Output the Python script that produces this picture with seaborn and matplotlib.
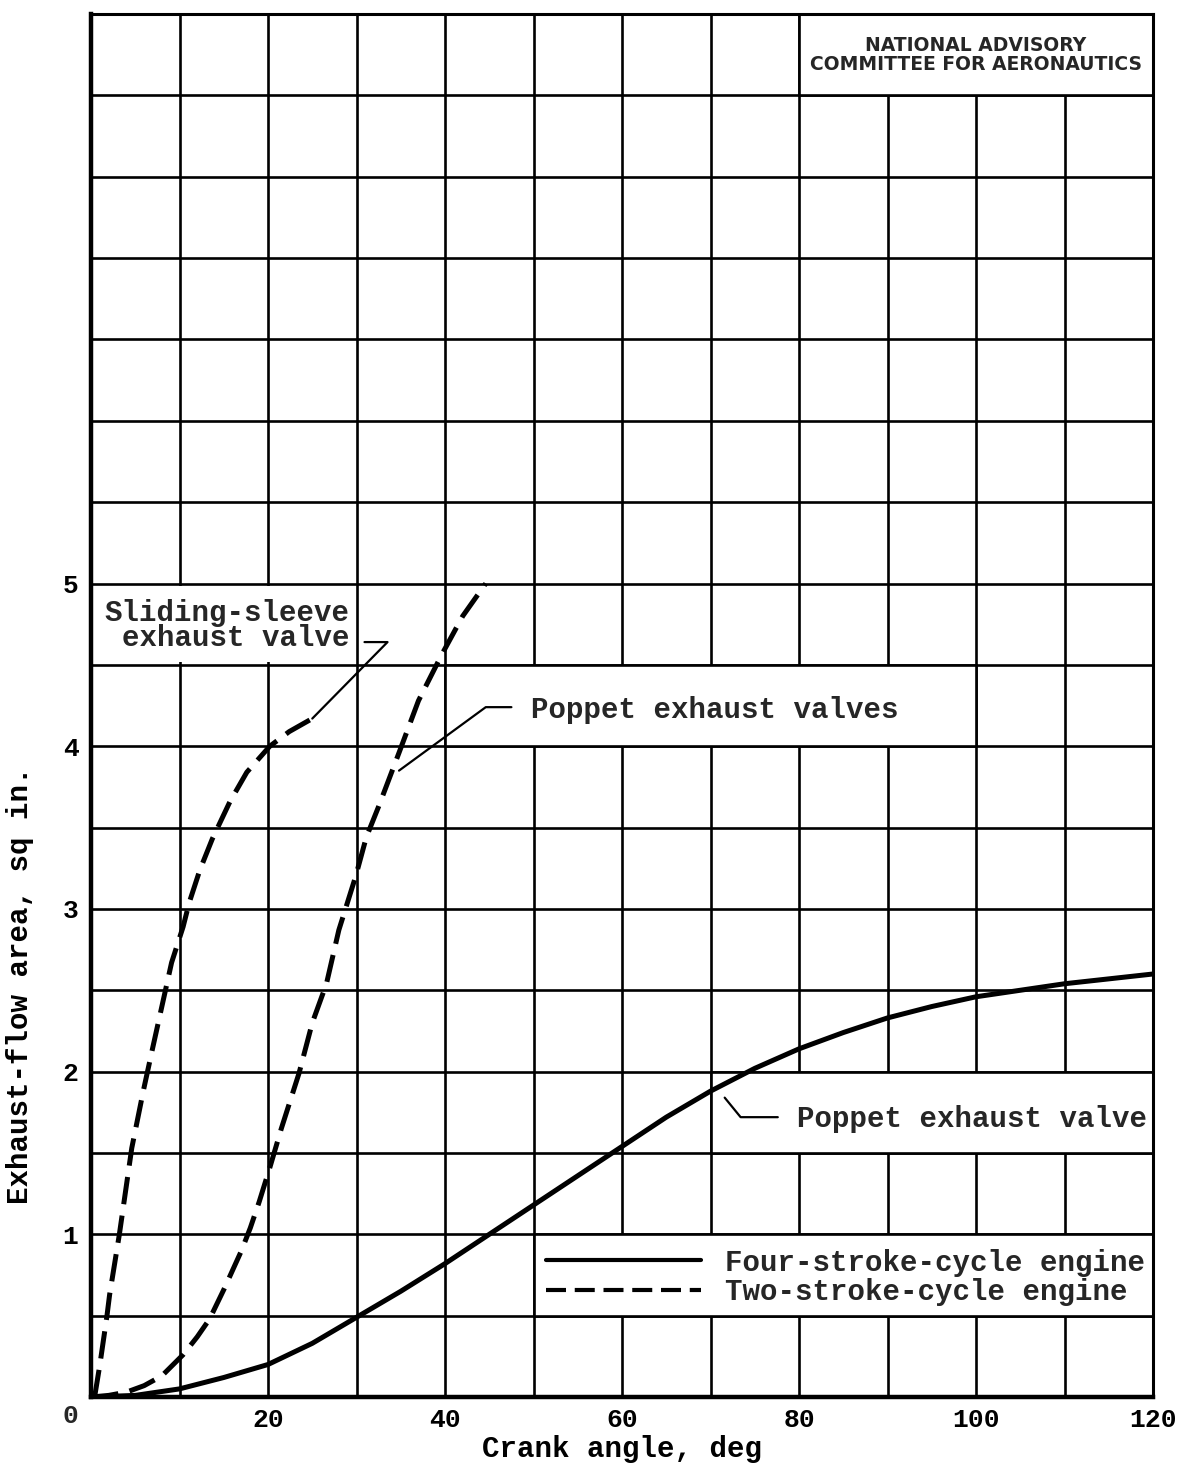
import numpy as np
import pandas as pd
import matplotlib
matplotlib.use("Agg")
import matplotlib.pyplot as plt
from matplotlib.patches import Rectangle
from matplotlib.lines import Line2D
import seaborn as sns

# values (crank angle in deg, exhaust-flow area in sq in.)
# four-stroke-cycle engine, poppet exhaust valve
four_x = [0, 5, 10, 15, 20, 25, 30, 35, 40, 45, 50, 55, 60, 65, 70, 75, 80, 85, 90, 95, 100, 105, 110, 115, 120]
four_y = [0, 0.01, 0.05, 0.12, 0.2, 0.33, 0.49, 0.65, 0.82, 1.0, 1.18, 1.36, 1.54, 1.72, 1.88, 2.02, 2.14, 2.24, 2.33, 2.4, 2.46, 2.5, 2.54, 2.57, 2.6]

# two-stroke-cycle engine, sliding-sleeve exhaust valve
sleeve_x = [0.4, 1.0, 1.8, 2.1, 3.2, 4.6, 5.9, 6.9, 8.0, 9.1, 10.4, 11.1, 12.3, 13.7, 15.7, 17.6, 20.2, 22.4, 25.0]
sleeve_y = [0, 0.2, 0.5, 0.63, 1.0, 1.53, 1.88, 2.13, 2.4, 2.67, 2.89, 3.04, 3.24, 3.43, 3.66, 3.84, 4.0, 4.09, 4.17]

# two-stroke-cycle engine, poppet exhaust valves
poppet_x = [0, 2, 4, 6, 8, 10.4, 12, 13.4, 15, 16, 17, 18, 19, 20.2, 21.5, 23.5, 25, 26.6, 28, 29.9, 31.1, 32.5, 34.8, 37, 39.6, 42, 44.6]
poppet_y = [0, 0.01, 0.03, 0.07, 0.13, 0.26, 0.37, 0.48, 0.66, 0.78, 0.9, 1.04, 1.2, 1.41, 1.65, 1.99, 2.3, 2.54, 2.87, 3.2, 3.44, 3.63, 3.96, 4.28, 4.56, 4.8, 5.0]

x_ticks = [0, 20, 40, 60, 80, 100, 120]
y_ticks = [1, 2, 3, 4, 5]
legend_labels = ["Four-stroke-cycle engine", "Two-stroke-cycle engine"]

# leader lines from the labels to the curves
lead_sleeve_x, lead_sleeve_y = [30.9, 33.5, 25.0], [4.64, 4.64, 4.17]
lead_valves_x, lead_valves_y = [47.5, 44.6, 34.8], [4.24, 4.24, 3.85]
lead_valve_x, lead_valve_y = [71.6, 73.4, 77.6], [1.84, 1.72, 1.72]

sns.set_theme(style="white")
mono = ["Liberation Mono", "DejaVu Sans Mono"]
plt.rcParams["font.family"] = mono
plt.rcParams["font.weight"] = "bold"
plt.rcParams["axes.labelweight"] = "bold"

fig = plt.figure(figsize=(11.81, 14.63), dpi=100)
ax = fig.add_axes([0.0771, 0.0451, 0.8992, 0.9453])

dash = (0, (5.5, 2.3))
sns.lineplot(x=four_x, y=four_y, ax=ax, color="black", lw=3.6,
             sort=False, estimator=None, zorder=4)
sns.lineplot(x=sleeve_x, y=sleeve_y, ax=ax, color="black", lw=3.6,
             linestyle=dash, sort=False, estimator=None, zorder=4)
sns.lineplot(x=poppet_x, y=poppet_y, ax=ax, color="black", lw=3.6,
             linestyle=dash, sort=False, estimator=None, zorder=4)

ax.set_xlim(0, 120)
ax.set_ylim(0, 8.5)
ax.set_xticks(x_ticks)
ax.set_xticklabels(["" if t == 0 else str(t) for t in x_ticks])
ax.set_xticks(np.arange(0, 121, 10), minor=True)
ax.set_yticks(y_ticks)
ax.set_yticklabels([str(t) for t in y_ticks])
ax.set_yticks(np.arange(0, 8.51, 0.5), minor=True)
ax.set_axisbelow(True)
ax.grid(which="both", color="black", lw=1.9)
ax.tick_params(which="both", length=0, labelsize=19, colors="black")
ax.tick_params(axis="x", pad=8)
ax.tick_params(axis="y", pad=9)
ax.annotate("0", xy=(0, 0), xycoords="data", textcoords="offset pixels",
            xytext=(-21, -19), ha="center", va="center", fontsize=19)

for side in ["left", "bottom"]:
    ax.spines[side].set_linewidth(3.2)
for side in ["top", "right"]:
    ax.spines[side].set_linewidth(2.2)
for sp in ax.spines.values():
    sp.set_color("black")

# white label boxes cut out of the grid; their outline redraws the grid cell edges
ax.add_patch(Rectangle((0, 4.515), 29.5, 0.47, facecolor="white",
                       edgecolor="none", zorder=1.5))
cells = [(40, 4.0, 60, 0.5), (70, 1.5, 50, 0.5), (50, 0.5, 70, 0.5),
         (80, 8.0, 40, 0.5)]
for bx, by, bw, bh in cells:
    ax.add_patch(Rectangle((bx, by), bw, bh, facecolor="white",
                           edgecolor="black", lw=1.9, zorder=1.5))

ax.text(29.2, 4.74, "Sliding-sleeve\nexhaust valve", ha="right", va="center",
        fontsize=21, linespacing=0.85, zorder=5)
ax.text(49.7, 4.22, "Poppet exhaust valves", ha="left", va="center",
        fontsize=21, zorder=5)
ax.text(79.8, 1.71, "Poppet exhaust valve", ha="left", va="center",
        fontsize=21, zorder=5)
ax.text(100, 8.25, "NATIONAL ADVISORY\nCOMMITTEE FOR AERONAUTICS",
        ha="center", va="center", fontsize=13.5, family="DejaVu Sans",
        fontweight="bold", linespacing=1.0, zorder=5)

for lx, ly in [(lead_sleeve_x, lead_sleeve_y), (lead_valves_x, lead_valves_y),
               (lead_valve_x, lead_valve_y)]:
    ax.plot(lx, ly, color="black", lw=1.6, zorder=4)

handles = [Line2D([], [], color="black", lw=3.0),
           Line2D([], [], color="black", lw=3.0, linestyle=(0, (4.8, 2.1)))]
ax.legend(handles, legend_labels, loc="center left",
          bbox_to_anchor=(51.4, 0.735), bbox_transform=ax.transData,
          frameon=False, handlelength=5.3, handletextpad=0.85,
          labelspacing=0.05, borderpad=0, borderaxespad=0,
          prop={"family": mono, "size": 21, "weight": "bold"})

ax.set_xlabel("Crank angle, deg", fontsize=21, labelpad=2, color="black",
              fontweight="bold")
ax.set_ylabel("Exhaust-flow area, sq in.", fontsize=21, color="black",
              fontweight="bold")
ax.yaxis.set_label_coords(-0.054, 0.298)

fig.savefig("out.png", dpi=100, facecolor="white")
